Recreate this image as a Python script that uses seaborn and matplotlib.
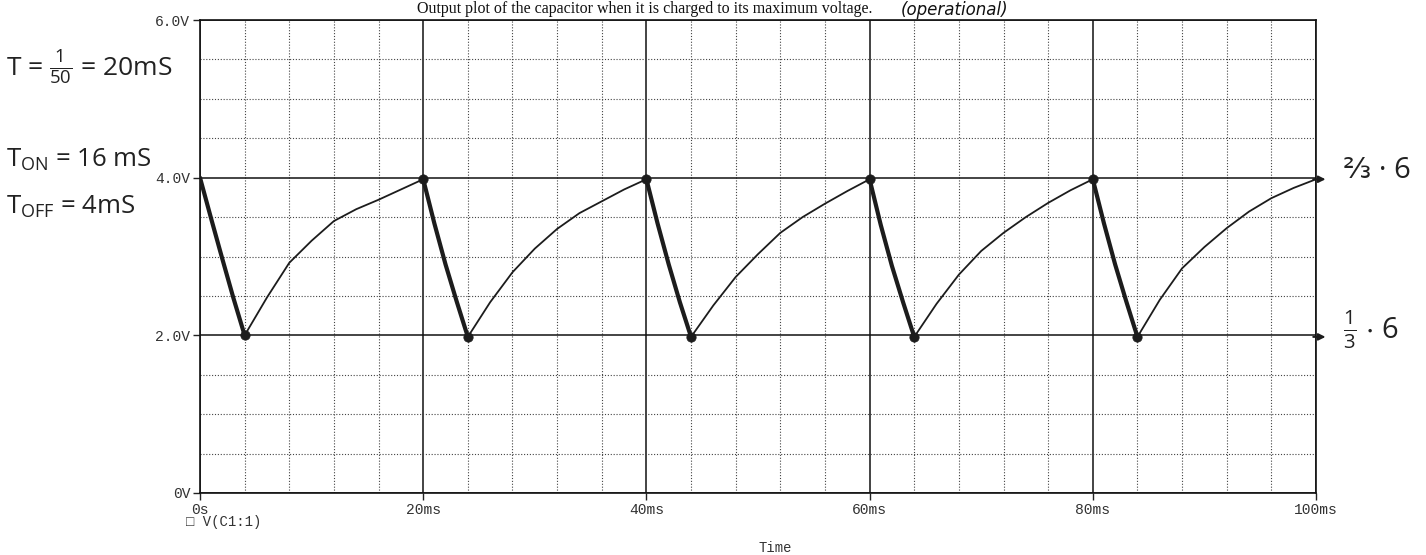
import numpy as np
import pandas as pd
import matplotlib
matplotlib.use("Agg")
import matplotlib.pyplot as plt
import seaborn as sns

# ---------------- data ----------------
time_ms = [
    0, 1, 2, 3, 4,
    4, 6, 8, 10, 12, 14, 16, 18, 20,
    20, 21, 22, 23, 24,
    24, 26, 28, 30, 32, 34, 36, 38, 40,
    40, 41, 42, 43, 44,
    44, 46, 48, 50, 52, 54, 56, 58, 60,
    60, 61, 62, 63, 64,
    64, 66, 68, 70, 72, 74, 76, 78, 80,
    80, 81, 82, 83, 84,
    84, 86, 88, 90, 92, 94, 96, 98, 100,
]
voltage_v = [
    4.00, 3.48, 2.97, 2.47, 2.00,
    2.00, 2.48, 2.92, 3.20, 3.45, 3.60, 3.72, 3.85, 3.98,
    3.98, 3.42, 2.90, 2.43, 1.98,
    1.98, 2.42, 2.80, 3.10, 3.35, 3.55, 3.70, 3.85, 3.98,
    3.98, 3.42, 2.90, 2.42, 1.98,
    1.98, 2.38, 2.74, 3.03, 3.30, 3.50, 3.67, 3.83, 3.98,
    3.98, 3.40, 2.88, 2.42, 1.98,
    1.98, 2.40, 2.77, 3.07, 3.30, 3.50, 3.68, 3.84, 3.98,
    3.98, 3.42, 2.90, 2.43, 1.98,
    1.98, 2.45, 2.85, 3.12, 3.36, 3.57, 3.74, 3.87, 3.98,
]
segment = (
    [1] * 5 + [2] * 9 + [3] * 5 + [4] * 9 + [5] * 5 + [6] * 9
    + [7] * 5 + [8] * 9 + [9] * 5 + [10] * 9
)
phase = (
    ["discharge"] * 5 + ["charge"] * 9 + ["discharge"] * 5 + ["charge"] * 9
    + ["discharge"] * 5 + ["charge"] * 9 + ["discharge"] * 5 + ["charge"] * 9
    + ["discharge"] * 5 + ["charge"] * 9
)

x_ticks = [0, 20, 40, 60, 80, 100]
x_tick_labels = ["0s", "20ms", "40ms", "60ms", "80ms", "100ms"]
y_ticks = [0, 2, 4, 6]
y_tick_labels = ["0V", "2.0V", "4.0V", "6.0V"]

title_text = "Output plot of the capacitor when it is charged to its maximum voltage."

df = pd.DataFrame({"time": time_ms, "voltage": voltage_v,
                   "segment": segment, "phase": phase})

# ---------------- figure ----------------
sns.set_theme(style="white")
plt.rcParams["font.family"] = ["DejaVu Sans"]
plt.rcParams["mathtext.default"] = "regular"

W, H = 1426, 555
fig = plt.figure(figsize=(W / 100, H / 100), dpi=100)
fig.patch.set_facecolor("white")
L, R, T, B = 200, 1316, 20, 493
ax = fig.add_axes([L / W, 1 - B / H, (R - L) / W, (B - T) / H])
ax.set_facecolor("white")

ink = "#1c1c1c"
sns.lineplot(data=df, x="time", y="voltage", units="segment", estimator=None,
             size="phase", sizes={"discharge": 3.0, "charge": 1.3},
             color=ink, sort=False, legend=False, ax=ax, zorder=5)

# dots at the switching points (ends of the discharge segments)
dis = df[df["phase"] == "discharge"]
ends = pd.concat([dis.groupby("segment").head(1), dis.groupby("segment").tail(1)])
ends = ends[ends["time"] > 0]
sns.scatterplot(data=ends, x="time", y="voltage", color=ink, s=45,
                edgecolor=ink, ax=ax, zorder=6, legend=False)

ax.set_xlim(0, 100)
ax.set_ylim(0, 6)
ax.set_xticks(x_ticks)
ax.set_xticklabels(x_tick_labels)
ax.set_yticks(y_ticks)
ax.set_yticklabels(y_tick_labels)
ax.set_xticks(np.arange(0, 101, 4), minor=True)
ax.set_yticks(np.arange(0, 6.01, 0.5), minor=True)
ax.grid(which="major", color="#111111", lw=1.1, ls="-")
ax.grid(which="minor", color="#444444", lw=0.8, ls=(0, (1, 1.6)))
ax.set_axisbelow(True)

mono = ["Liberation Mono", "DejaVu Sans Mono"]
ax.tick_params(which="major", direction="out", length=5, width=1,
               color="#222", labelcolor="#333", labelsize=10.5, pad=2,
               left=True, bottom=True)
ax.tick_params(which="minor", length=0)
for lab in ax.get_xticklabels() + ax.get_yticklabels():
    lab.set_family(mono)
for s in ax.spines.values():
    s.set_color("#111")
    s.set_linewidth(1.2)
ax.set_xlabel("")
ax.set_ylabel("")

# axis title / legend like PSpice
fig.text(775 / W, 1 - 548 / H, "Time", ha="center", va="center",
         family=mono, fontsize=10, color="#333")
fig.text(186 / W, 1 - 522 / H, "\u25a1 V(C1:1)", ha="left", va="center",
         family=mono, fontsize=10, color="#333")

# heading at the top of the scan (kept inside the picture)
fig.text(872 / W, 1 - 9 / H, title_text, ha="right", va="center",
         family=["Liberation Serif", "DejaVu Serif"], fontsize=11.5, color="#111")
fig.text(955 / W, 1 - 10 / H, "(operational)", ha="center", va="center",
         style="italic", fontsize=12, color="#111")

# handwritten notes (left)
hand = ["Open Sans", "DejaVu Sans"]
fig.text(6 / W, 1 - 68 / H, r"T = $\frac{1}{50}$ = 20mS", ha="left", va="center",
         family=hand, fontsize=19, color="#222")
fig.text(6 / W, 1 - 160 / H, r"T$_{ON}$ = 16 mS", ha="left", va="center",
         family=hand, fontsize=18.5, color="#222")
fig.text(6 / W, 1 - 207 / H, r"T$_{OFF}$ = 4mS", ha="left", va="center",
         family=hand, fontsize=18.5, color="#222")

# handwritten notes (right)
fig.text(1343 / W, 1 - 170 / H, "\u2154 \u00b7 6", ha="left", va="center",
         family=hand, fontsize=21, color="#222")
fig.text(1343 / W, 1 - 330 / H, r"$\frac{1}{3}$ $\cdot$ 6", ha="left", va="center",
         family=hand, fontsize=21, color="#222")
for yv in (3.98, 1.98):
    ax.annotate("", xy=(1.011, yv), xycoords=("axes fraction", "data"),
                xytext=(0.995, yv), textcoords=("axes fraction", "data"),
                arrowprops=dict(arrowstyle="-|>", color=ink, lw=1.4,
                                mutation_scale=10),
                annotation_clip=False)

fig.savefig("out.png", dpi=100, facecolor="white")
